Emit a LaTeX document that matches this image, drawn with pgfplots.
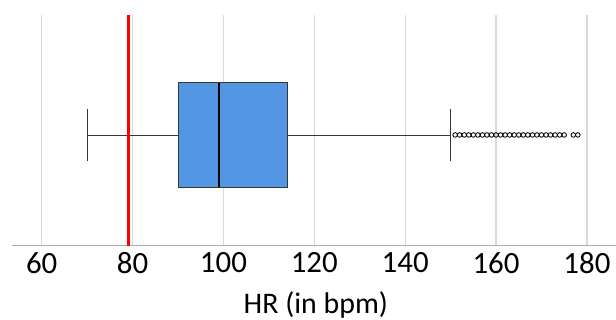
\documentclass[border=0pt]{standalone}
\usepackage{fontspec}
\setmainfont{Carlito}
\usepackage{pgfplots}
\pgfplotsset{compat=1.18}
\usepgfplotslibrary{statistics}
\definecolor{boxblue}{RGB}{83,150,228}
\definecolor{edgegray}{RGB}{55,55,55}
\definecolor{gridgray}{RGB}{217,217,217}
\definecolor{axisgray}{RGB}{175,175,175}
\begin{document}
\begin{tikzpicture}
\begin{axis}[
  scale only axis,
  width=604.3bp, height=230.7bp,
  xmin=53.4, xmax=186.4,
  ymin=0, ymax=1,
  axis x line=bottom,
  axis y line=none,
  axis line style={-, draw=axisgray, line width=1bp},
  xtick={60,80,...,180},
  major tick length=0pt,
  xmajorgrids,
  grid style={draw=gridgray, line width=1.2bp},
  /pgf/number format/assume math mode=true,
  ticklabel style={font=\fontsize{31}{36}\selectfont},
  xticklabel style={yshift=-3bp},
  xlabel={HR (in bpm)},
  xlabel style={font=\fontsize{30}{36}\selectfont, at={(axis description cs:0.5,0)}, anchor=base, yshift=-67.8bp, xshift=2bp},
  clip=false,
]
\addplot[
  boxplot prepared={
    lower whisker=70, lower quartile=90, median=99,
    upper quartile=114, upper whisker=150,
    draw position=0.48, box extend=0.4532, whisker extend=0.2254,
    draw direction=x
  },
  draw=edgegray, line width=0.9bp,
  boxplot/every box/.style={fill=boxblue},
  boxplot/every median/.style={draw=black, line width=1.6bp},
] coordinates {};
\addplot[only marks, mark=o, mark size=2.3bp, mark options={draw=black, line width=0.85bp, fill=white}]
  table[row sep=\\] {
  x y\\
  151 0.48\\ 152 0.48\\ 153 0.48\\ 154 0.48\\ 155 0.48\\
  156 0.48\\ 157 0.48\\ 158 0.48\\ 159 0.48\\ 160 0.48\\
  161 0.48\\ 162 0.48\\ 163 0.48\\ 164 0.48\\ 165 0.48\\
  166 0.48\\ 167 0.48\\ 168 0.48\\ 169 0.48\\ 170 0.48\\
  171 0.48\\ 172 0.48\\ 173 0.48\\ 174 0.48\\ 175 0.48\\
  177 0.48\\ 178 0.48\\
  };
\addplot[draw=red, line width=2.2bp] coordinates {(79.1,0) (79.1,1)};
\end{axis}
\pgfresetboundingbox
\path ([shift={(-11.7bp,-74.3bp)}]current axis.south west) rectangle ([shift={(604.3bp,245.7bp)}]current axis.south west);
\end{tikzpicture}
\end{document}
